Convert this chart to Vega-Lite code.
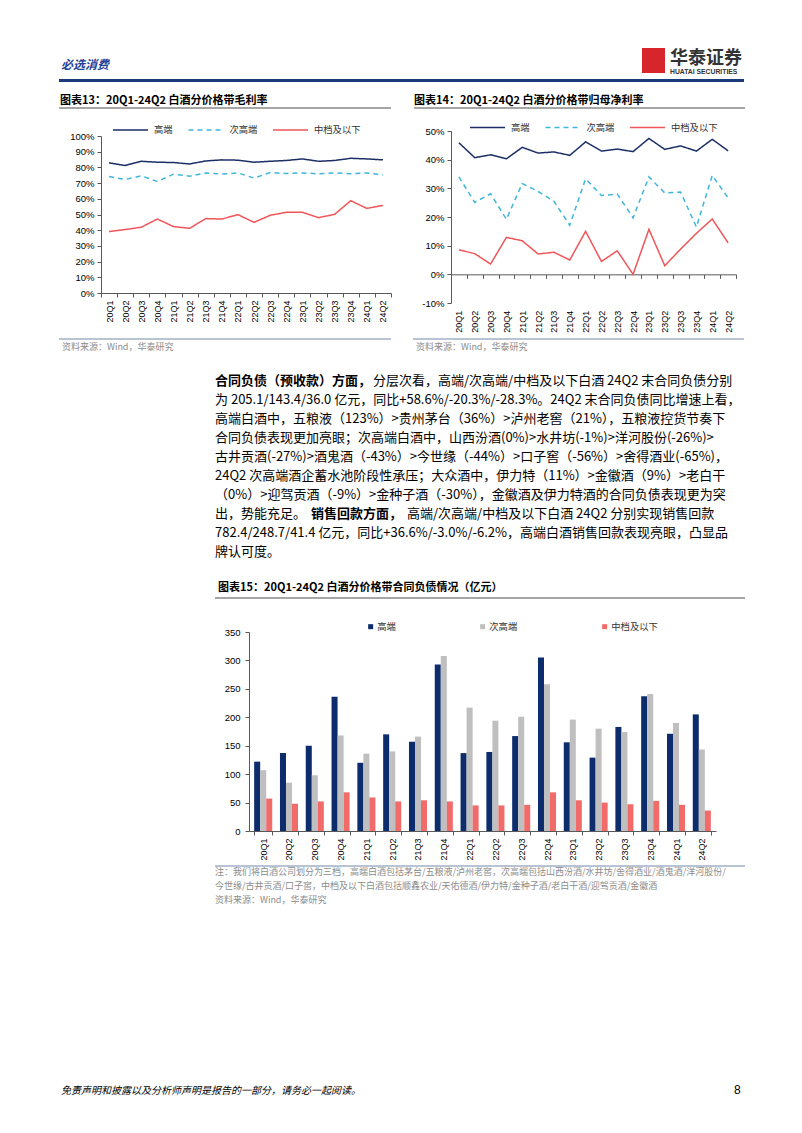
{
"$schema": "https://vega.github.io/schema/vega-lite/v6.json",
"background": "white",
"padding": 0,
"spacing": 0,
"config": {"view": {"stroke": null}, "font": "Noto Sans CJK SC", "concat": {"spacing": 0}},
"resolve": {"scale": {"color": "independent", "strokeDash": "independent", "strokeWidth": "independent"}, "legend": {"color": "independent", "strokeDash": "independent", "strokeWidth": "independent"}},
"datasets": {
"gm": [
{"q":"20Q1","s":"高端","v":82.9},{"q":"20Q1","s":"次高端","v":74.2},{"q":"20Q1","s":"中档及以下","v":39.1},
{"q":"20Q2","s":"高端","v":81.2},{"q":"20Q2","s":"次高端","v":72.3},{"q":"20Q2","s":"中档及以下","v":40.4},
{"q":"20Q3","s":"高端","v":83.9},{"q":"20Q3","s":"次高端","v":74.6},{"q":"20Q3","s":"中档及以下","v":41.9},
{"q":"20Q4","s":"高端","v":83.3},{"q":"20Q4","s":"次高端","v":71.0},{"q":"20Q4","s":"中档及以下","v":47.1},
{"q":"21Q1","s":"高端","v":83.1},{"q":"21Q1","s":"次高端","v":75.7},{"q":"21Q1","s":"中档及以下","v":42.3},
{"q":"21Q2","s":"高端","v":82.2},{"q":"21Q2","s":"次高端","v":74.4},{"q":"21Q2","s":"中档及以下","v":41.2},
{"q":"21Q3","s":"高端","v":84.1},{"q":"21Q3","s":"次高端","v":76.5},{"q":"21Q3","s":"中档及以下","v":47.4},
{"q":"21Q4","s":"高端","v":84.8},{"q":"21Q4","s":"次高端","v":75.7},{"q":"21Q4","s":"中档及以下","v":47.1},
{"q":"22Q1","s":"高端","v":84.6},{"q":"22Q1","s":"次高端","v":76.5},{"q":"22Q1","s":"中档及以下","v":49.9},
{"q":"22Q2","s":"高端","v":83.3},{"q":"22Q2","s":"次高端","v":73.2},{"q":"22Q2","s":"中档及以下","v":45.0},
{"q":"22Q3","s":"高端","v":83.9},{"q":"22Q3","s":"次高端","v":76.7},{"q":"22Q3","s":"中档及以下","v":49.5},
{"q":"22Q4","s":"高端","v":84.4},{"q":"22Q4","s":"次高端","v":76.1},{"q":"22Q4","s":"中档及以下","v":51.4},
{"q":"23Q1","s":"高端","v":85.4},{"q":"23Q1","s":"次高端","v":76.5},{"q":"23Q1","s":"中档及以下","v":51.4},
{"q":"23Q2","s":"高端","v":83.9},{"q":"23Q2","s":"次高端","v":75.9},{"q":"23Q2","s":"中档及以下","v":48.0},
{"q":"23Q3","s":"高端","v":84.4},{"q":"23Q3","s":"次高端","v":76.5},{"q":"23Q3","s":"中档及以下","v":50.1},
{"q":"23Q4","s":"高端","v":85.8},{"q":"23Q4","s":"次高端","v":75.9},{"q":"23Q4","s":"中档及以下","v":58.8},
{"q":"24Q1","s":"高端","v":85.4},{"q":"24Q1","s":"次高端","v":76.5},{"q":"24Q1","s":"中档及以下","v":53.9},
{"q":"24Q2","s":"高端","v":84.8},{"q":"24Q2","s":"次高端","v":75.3},{"q":"24Q2","s":"中档及以下","v":55.8}
],
"np": [
{"q":"20Q1","s":"高端","v":45.9},{"q":"20Q1","s":"次高端","v":34.0},{"q":"20Q1","s":"中档及以下","v":8.6},
{"q":"20Q2","s":"高端","v":40.7},{"q":"20Q2","s":"次高端","v":25.1},{"q":"20Q2","s":"中档及以下","v":7.2},
{"q":"20Q3","s":"高端","v":41.7},{"q":"20Q3","s":"次高端","v":28.1},{"q":"20Q3","s":"中档及以下","v":3.6},
{"q":"20Q4","s":"高端","v":40.3},{"q":"20Q4","s":"次高端","v":19.2},{"q":"20Q4","s":"中档及以下","v":12.9},
{"q":"21Q1","s":"高端","v":44.3},{"q":"21Q1","s":"次高端","v":31.7},{"q":"21Q1","s":"中档及以下","v":11.7},
{"q":"21Q2","s":"高端","v":42.3},{"q":"21Q2","s":"次高端","v":28.9},{"q":"21Q2","s":"中档及以下","v":7.1},
{"q":"21Q3","s":"高端","v":42.7},{"q":"21Q3","s":"次高端","v":25.5},{"q":"21Q3","s":"中档及以下","v":7.7},
{"q":"21Q4","s":"高端","v":41.5},{"q":"21Q4","s":"次高端","v":17.1},{"q":"21Q4","s":"中档及以下","v":5.0},
{"q":"22Q1","s":"高端","v":46.2},{"q":"22Q1","s":"次高端","v":33.3},{"q":"22Q1","s":"中档及以下","v":15.0},
{"q":"22Q2","s":"高端","v":43.0},{"q":"22Q2","s":"次高端","v":27.5},{"q":"22Q2","s":"中档及以下","v":4.5},
{"q":"22Q3","s":"高端","v":43.7},{"q":"22Q3","s":"次高端","v":28.0},{"q":"22Q3","s":"中档及以下","v":8.2},
{"q":"22Q4","s":"高端","v":42.8},{"q":"22Q4","s":"次高端","v":19.7},{"q":"22Q4","s":"中档及以下","v":0.0},
{"q":"23Q1","s":"高端","v":47.4},{"q":"23Q1","s":"次高端","v":34.0},{"q":"23Q1","s":"中档及以下","v":15.7},
{"q":"23Q2","s":"高端","v":43.6},{"q":"23Q2","s":"次高端","v":28.4},{"q":"23Q2","s":"中档及以下","v":3.0},
{"q":"23Q3","s":"高端","v":44.8},{"q":"23Q3","s":"次高端","v":28.7},{"q":"23Q3","s":"中档及以下","v":8.8},
{"q":"23Q4","s":"高端","v":43.0},{"q":"23Q4","s":"次高端","v":16.5},{"q":"23Q4","s":"中档及以下","v":14.3},
{"q":"24Q1","s":"高端","v":47.1},{"q":"24Q1","s":"次高端","v":34.5},{"q":"24Q1","s":"中档及以下","v":19.3},
{"q":"24Q2","s":"高端","v":43.1},{"q":"24Q2","s":"次高端","v":26.7},{"q":"24Q2","s":"中档及以下","v":11.0}
],
"cl": [
{"q":"20Q1","s":"高端","v":122},{"q":"20Q1","s":"次高端","v":107},{"q":"20Q1","s":"中档及以下","v":57},
{"q":"20Q2","s":"高端","v":137},{"q":"20Q2","s":"次高端","v":85},{"q":"20Q2","s":"中档及以下","v":48},
{"q":"20Q3","s":"高端","v":150},{"q":"20Q3","s":"次高端","v":98},{"q":"20Q3","s":"中档及以下","v":52},
{"q":"20Q4","s":"高端","v":236},{"q":"20Q4","s":"次高端","v":168},{"q":"20Q4","s":"中档及以下","v":68},
{"q":"21Q1","s":"高端","v":120},{"q":"21Q1","s":"次高端","v":136},{"q":"21Q1","s":"中档及以下","v":59},
{"q":"21Q2","s":"高端","v":170},{"q":"21Q2","s":"次高端","v":140},{"q":"21Q2","s":"中档及以下","v":52},
{"q":"21Q3","s":"高端","v":157},{"q":"21Q3","s":"次高端","v":166},{"q":"21Q3","s":"中档及以下","v":54},
{"q":"21Q4","s":"高端","v":293},{"q":"21Q4","s":"次高端","v":308},{"q":"21Q4","s":"中档及以下","v":52},
{"q":"22Q1","s":"高端","v":137},{"q":"22Q1","s":"次高端","v":217},{"q":"22Q1","s":"中档及以下","v":45},
{"q":"22Q2","s":"高端","v":139},{"q":"22Q2","s":"次高端","v":194},{"q":"22Q2","s":"中档及以下","v":45},
{"q":"22Q3","s":"高端","v":167},{"q":"22Q3","s":"次高端","v":201},{"q":"22Q3","s":"中档及以下","v":46},
{"q":"22Q4","s":"高端","v":305},{"q":"22Q4","s":"次高端","v":258},{"q":"22Q4","s":"中档及以下","v":68},
{"q":"23Q1","s":"高端","v":156},{"q":"23Q1","s":"次高端","v":196},{"q":"23Q1","s":"中档及以下","v":54},
{"q":"23Q2","s":"高端","v":129},{"q":"23Q2","s":"次高端","v":180},{"q":"23Q2","s":"中档及以下","v":50},
{"q":"23Q3","s":"高端","v":183},{"q":"23Q3","s":"次高端","v":174},{"q":"23Q3","s":"中档及以下","v":47},
{"q":"23Q4","s":"高端","v":237},{"q":"23Q4","s":"次高端","v":241},{"q":"23Q4","s":"中档及以下","v":53},
{"q":"24Q1","s":"高端","v":171},{"q":"24Q1","s":"次高端","v":190},{"q":"24Q1","s":"中档及以下","v":46},
{"q":"24Q2","s":"高端","v":205.1},{"q":"24Q2","s":"次高端","v":143.4},{"q":"24Q2","s":"中档及以下","v":36.0}
],
"para": [
{"line":1,"seg":0,"t":"合同负债（预收款）方面，"},
{"line":1,"seg":1,"t":"分层次看，高端/次高端/中档及以下白酒 24Q2 末合同负债分别"},
{"line":2,"seg":0,"t":"为 205.1/143.4/36.0 亿元，同比+58.6%/-20.3%/-28.3%。24Q2 末合同负债同比增速上看，"},
{"line":3,"seg":0,"t":"高端白酒中，五粮液（123%）>贵州茅台（36%）>泸州老窖（21%），五粮液控货节奏下"},
{"line":4,"seg":0,"t":"合同负债表现更加亮眼；次高端白酒中，山西汾酒(0%)>水井坊(-1%)>洋河股份(-26%)>"},
{"line":5,"seg":0,"t":"古井贡酒(-27%)>酒鬼酒（-43%）>今世缘（-44%）>口子窖（-56%）>舍得酒业(-65%)，"},
{"line":6,"seg":0,"t":"24Q2 次高端酒企蓄水池阶段性承压；大众酒中，伊力特（11%）>金徽酒（9%）>老白干"},
{"line":7,"seg":0,"t":"（0%）>迎驾贡酒（-9%）>金种子酒（-30%），金徽酒及伊力特酒的合同负债表现更为突"},
{"line":8,"seg":0,"t":"出，势能充足。"},
{"line":8,"seg":1,"t":"销售回款方面，"},
{"line":8,"seg":2,"t":"高端/次高端/中档及以下白酒 24Q2 分别实现销售回款"},
{"line":9,"seg":0,"t":"782.4/248.7/41.4 亿元，同比+36.6%/-3.0%/-6.2%，高端白酒销售回款表现亮眼，凸显品"},
{"line":10,"seg":0,"t":"牌认可度。"}
]
},
"vconcat": [
{"spacing":0,"hconcat":[
 {"width":61,"height":79,"data":{"values":[]},"mark":"point"},
 {"spacing":0,"vconcat":[
  {"width":500,"height":59,"data":{"values":[]},"mark":"point"},
  {"width":500,"height":1,"data":{"values":[]},"mark":"point",
   "title":{"text":"必选消费","orient":"bottom","anchor":"start","frame":"group","offset":0,"fontSize":12,"fontWeight":"bold","fontStyle":"italic","color":"#1f4196"}}
 ]},
 {"width":81,"height":1,"data":{"values":[]},"mark":"point"},
 {"spacing":0,"vconcat":[
  {"width":23,"height":48,"data":{"values":[]},"mark":"point"},
  {"width":23,"height":25,"data":{"values":[]},"mark":"point","view":{"fill":"#d6262c"}}
 ]},
 {"width":5,"height":1,"data":{"values":[]},"mark":"point"},
 {"spacing":0,"vconcat":[
  {"width":75,"height":48,"data":{"values":[]},"mark":"point"},
  {"width":75,"height":1,"data":{"values":[]},"mark":"point",
   "title":{"text":"华泰证券","subtitle":"HUATAI SECURITIES","orient":"bottom","anchor":"start","frame":"group","offset":1,"fontSize":18,"fontWeight":"bold","color":"#333333","subtitleFont":"Liberation Sans","subtitleFontSize":6.8,"subtitleFontWeight":"bold","subtitleColor":"#333333","subtitlePadding":1}}
 ]}
]},
{"spacing":0,"hconcat":[
 {"width":59,"height":28,"data":{"values":[]},"mark":"point"},
 {"spacing":0,"vconcat":[
  {"width":685,"height":3,"data":{"values":[]},"mark":"point","view":{"fill":"#1a3a7c"}},
  {"width":685,"height":11,"data":{"values":[]},"mark":"point"},
  {"spacing":0,"hconcat":[
   {"width":332,"height":1,"data":{"values":[]},"mark":"point",
    "title":{"text":"图表13：20Q1-24Q2 白酒分价格带毛利率","orient":"bottom","anchor":"start","frame":"group","offset":1,"dx":1,"fontSize":11,"fontWeight":"bold","color":"#000000"}},
   {"width":22,"height":1,"data":{"values":[]},"mark":"point"},
   {"width":331,"height":1,"data":{"values":[]},"mark":"point",
    "title":{"text":"图表14：20Q1-24Q2 白酒分价格带归母净利率","orient":"bottom","anchor":"start","frame":"group","offset":1,"dx":1,"fontSize":11,"fontWeight":"bold","color":"#000000"}}
  ]}
 ]}
]},
{"spacing":0,
 "resolve": {"scale": {"color": "independent", "strokeDash": "independent", "strokeWidth": "independent"}, "legend": {"color": "independent", "strokeDash": "independent", "strokeWidth": "independent"}},
 "hconcat":[
 {"width":59,"height":231,"data":{"values":[]},"mark":"point"},
 {"spacing":0,
  "resolve": {"scale": {"color": "independent", "strokeDash": "independent", "strokeWidth": "independent"}, "legend": {"color": "independent", "strokeDash": "independent", "strokeWidth": "independent"}},
  "vconcat":[
  {"width":332,"height":2,"data":{"values":[]},"mark":"point","view":{"fill":"#a6a6a6"}},
  {"spacing":0,
   "resolve": {"scale": {"color": "independent", "strokeDash": "independent", "strokeWidth": "independent"}, "legend": {"color": "independent", "strokeDash": "independent", "strokeWidth": "independent"}},
   "hconcat":[
   {"width":2,"height":1,"data":{"values":[]},"mark":"point"},
   {"width":290,"height":184,"data":{"name":"gm"},"mark":{"type":"line"},
    "encoding":{
     "x":{"field":"q","type":"ordinal","bandPosition":0.5,"scale":{"type":"band","paddingInner":0,"paddingOuter":0},
          "axis":{"title":null,"labelAngle":-90,"labelFont":"Liberation Sans","labelFontSize":9,"labelColor":"#000000","tickBand":"extent","tickSize":4,"labelPadding":3,"domainColor":"#595959","tickColor":"#595959"}},
     "y":{"field":"v","type":"quantitative","scale":{"domain":[0,100],"nice":false,"range":[184,27]},
          "axis":{"title":null,"values":[0,10,20,30,40,50,60,70,80,90,100],"labelExpr":"datum.value + '%'","grid":false,"tickSize":4,"labelPadding":3,"minExtent":40,"labelFont":"Liberation Sans","labelFontSize":9.5,"labelColor":"#000000","domainColor":"#595959","tickColor":"#595959"}},
     "color":{"field":"s","type":"nominal","scale":{"domain":["高端","次高端","中档及以下"],"range":["#1c2f66","#3fb6da","#f0555a"]},
          "legend":{"title":null,"orient":"none","legendX":11,"legendY":2.5,"direction":"horizontal","symbolType":"stroke","symbolSize":1225,"labelFont":"Noto Sans CJK SC","labelFontSize":9.3,"labelColor":"#333333","labelOffset":5,"columnPadding":12.5,"padding":0}},
     "strokeDash":{"field":"s","type":"nominal","scale":{"domain":["高端","次高端","中档及以下"],"range":[[1,0],[5,4],[1,0]]},
          "legend":{"title":null,"orient":"none","legendX":11,"legendY":2.5,"direction":"horizontal","symbolType":"stroke","symbolSize":1225,"labelFont":"Noto Sans CJK SC","labelFontSize":9.3,"labelColor":"#333333","labelOffset":5,"columnPadding":12.5,"padding":0}},
     "strokeWidth":{"field":"s","type":"nominal","scale":{"domain":["高端","次高端","中档及以下"],"range":[1.5,1.5,2.2]},
          "legend":{"title":null,"orient":"none","legendX":11,"legendY":2.5,"direction":"horizontal","symbolType":"stroke","symbolSize":1225,"labelFont":"Noto Sans CJK SC","labelFontSize":9.3,"labelColor":"#333333","labelOffset":5,"columnPadding":12.5,"padding":0}}
    }}
  ]}
 ]},
 {"width":22,"height":1,"data":{"values":[]},"mark":"point"},
 {"spacing":0,
  "resolve": {"scale": {"color": "independent", "strokeDash": "independent", "strokeWidth": "independent"}, "legend": {"color": "independent", "strokeDash": "independent", "strokeWidth": "independent"}},
  "vconcat":[
  {"width":331,"height":2,"data":{"values":[]},"mark":"point","view":{"fill":"#a6a6a6"}},
  {"spacing":0,
   "resolve": {"scale": {"color": "independent", "strokeDash": "independent", "strokeWidth": "independent"}, "legend": {"color": "independent", "strokeDash": "independent", "strokeWidth": "independent"}},
   "hconcat":[
   {"width":2,"height":1,"data":{"values":[]},"mark":"point"},
   {"width":285,"height":194,"data":{"name":"np"},"mark":{"type":"line"},
    "encoding":{
     "x":{"field":"q","type":"ordinal","bandPosition":0.5,"scale":{"type":"band","paddingInner":0,"paddingOuter":0},
          "axis":{"title":null,"labelAngle":-90,"labelFont":"Liberation Sans","labelFontSize":9,"labelColor":"#000000","tickBand":"extent","tickSize":4,"offset":-28.67,"labelPadding":32,"domainColor":"#595959","tickColor":"#595959"}},
     "y":{"field":"v","type":"quantitative","scale":{"domain":[-10,50],"nice":false,"range":[194,22]},
          "axis":{"title":null,"values":[-10,0,10,20,30,40,50],"labelExpr":"datum.value + '%'","grid":false,"tickSize":4,"labelPadding":3,"minExtent":35,"labelFont":"Liberation Sans","labelFontSize":9.5,"labelColor":"#000000","domainColor":"#595959","tickColor":"#595959"}},
     "color":{"field":"s","type":"nominal","scale":{"domain":["高端","次高端","中档及以下"],"range":["#1c2f66","#3fb6da","#f0555a"]},
          "legend":{"title":null,"orient":"none","legendX":18,"legendY":0,"direction":"horizontal","symbolType":"stroke","symbolSize":1225,"labelFont":"Noto Sans CJK SC","labelFontSize":9.3,"labelColor":"#333333","labelOffset":5,"columnPadding":12.5,"padding":0}},
     "strokeDash":{"field":"s","type":"nominal","scale":{"domain":["高端","次高端","中档及以下"],"range":[[1,0],[5,4],[1,0]]},
          "legend":{"title":null,"orient":"none","legendX":18,"legendY":0,"direction":"horizontal","symbolType":"stroke","symbolSize":1225,"labelFont":"Noto Sans CJK SC","labelFontSize":9.3,"labelColor":"#333333","labelOffset":5,"columnPadding":12.5,"padding":0}},
     "strokeWidth":{"field":"s","type":"nominal","scale":{"domain":["高端","次高端","中档及以下"],"range":[1.5,1.5,2.2]},
          "legend":{"title":null,"orient":"none","legendX":18,"legendY":0,"direction":"horizontal","symbolType":"stroke","symbolSize":1225,"labelFont":"Noto Sans CJK SC","labelFontSize":9.3,"labelColor":"#333333","labelOffset":5,"columnPadding":12.5,"padding":0}}
    }}
  ]}
 ]}
]},
{"spacing":0,"hconcat":[
 {"width":59,"height":34,"data":{"values":[]},"mark":"point"},
 {"width":332,"height":2,"data":{"values":[]},"mark":"point","view":{"fill":"#b8c4d4"},
  "title":{"text":"资料来源：Wind，华泰研究","orient":"bottom","anchor":"start","frame":"group","offset":3,"dx":3,"fontSize":9,"fontWeight":"normal","color":"#8c8c8c"}},
 {"width":22,"height":1,"data":{"values":[]},"mark":"point"},
 {"width":331,"height":2,"data":{"values":[]},"mark":"point","view":{"fill":"#b8c4d4"},
  "title":{"text":"资料来源：Wind，华泰研究","orient":"bottom","anchor":"start","frame":"group","offset":3,"dx":3,"fontSize":9,"fontWeight":"normal","color":"#8c8c8c"}}
]},
{"spacing":0,"hconcat":[
 {"width":215,"height":225,"data":{"values":[]},"mark":"point"},
 {"spacing":0,"vconcat":[
  {"width":530,"height":189,"data":{"name":"para"},
   "encoding":{
    "y":{"field":"line","type":"ordinal","scale":{"type":"point","padding":0.5,"domain":[1,2,3,4,5,6,7,8,9,10]},"axis":null},
    "x":{"datum":0,"type":"quantitative","scale":{"domain":[0,1]},"axis":null},
    "text":{"field":"t","type":"nominal"}
   },
   "layer":[
    {"transform":[{"filter":"datum.seg == 0 && datum.line != 1"}],"mark":{"type":"text","align":"left","baseline":"middle","fontSize":13,"font":"Noto Sans CJK SC","color":"#000000"}},
    {"transform":[{"filter":"datum.seg == 0 && datum.line == 1"}],"mark":{"type":"text","align":"left","baseline":"middle","fontSize":13,"font":"Noto Sans CJK SC","fontWeight":"bold","color":"#000000"}},
    {"transform":[{"filter":"datum.seg == 1 && datum.line == 1"}],"mark":{"type":"text","align":"left","baseline":"middle","dx":158,"fontSize":13,"font":"Noto Sans CJK SC","color":"#000000"}},
    {"transform":[{"filter":"datum.seg == 1 && datum.line == 8"}],"mark":{"type":"text","align":"left","baseline":"middle","dx":96,"fontSize":13,"font":"Noto Sans CJK SC","fontWeight":"bold","color":"#000000"}},
    {"transform":[{"filter":"datum.seg == 2"}],"mark":{"type":"text","align":"left","baseline":"middle","dx":192,"fontSize":13,"font":"Noto Sans CJK SC","color":"#000000"}}
   ]},
  {"width":530,"height":20,"data":{"values":[]},"mark":"point"},
  {"width":530,"height":1,"data":{"values":[]},"mark":"point",
   "title":{"text":"图表15：20Q1-24Q2 白酒分价格带合同负债情况（亿元）","orient":"bottom","anchor":"start","frame":"group","offset":0,"dx":3,"fontSize":11,"fontWeight":"bold","color":"#000000"}}
 ]}
]},
{"spacing":0,
 "resolve": {"scale": {"color": "independent"}, "legend": {"color": "independent"}},
 "hconcat":[
 {"width":215,"height":268,"data":{"values":[]},"mark":"point"},
 {"spacing":0,
  "resolve": {"scale": {"color": "independent"}, "legend": {"color": "independent"}},
  "vconcat":[
  {"width":530,"height":2,"data":{"values":[]},"mark":"point","view":{"fill":"#a6a6a6"}},
  {"spacing":0,
   "resolve": {"scale": {"color": "independent"}, "legend": {"color": "independent"}},
   "hconcat":[
   {"width":4,"height":1,"data":{"values":[]},"mark":"point"},
   {"width":467,"height":232,"data":{"name":"cl"},"mark":{"type":"bar"},
    "encoding":{
     "x":{"field":"q","type":"nominal","scale":{"paddingInner":0.3,"paddingOuter":0.2},
          "axis":{"title":null,"labelAngle":-90,"labelFont":"Liberation Sans","labelFontSize":9,"labelColor":"#000000","tickBand":"extent","tickSize":4,"labelPadding":3,"domainColor":"#595959","tickColor":"#595959"}},
     "xOffset":{"field":"s","type":"nominal","sort":["高端","次高端","中档及以下"],"scale":{"paddingInner":0,"paddingOuter":0}},
     "y":{"field":"v","type":"quantitative","scale":{"domain":[0,350],"nice":false,"range":[232,33]},
          "axis":{"title":null,"values":[0,50,100,150,200,250,300,350],"grid":false,"tickSize":4,"labelPadding":5,"minExtent":30,"labelFont":"Liberation Sans","labelFontSize":9.5,"labelColor":"#000000","domainColor":"#595959","tickColor":"#595959"}},
     "color":{"field":"s","type":"nominal","scale":{"domain":["高端","次高端","中档及以下"],"range":["#0c2c6c","#bfbfbf","#f26b6b"]},
          "legend":{"title":null,"orient":"none","legendX":117,"legendY":23,"direction":"horizontal","symbolType":"square","symbolSize":25,"symbolStrokeWidth":0,"labelFont":"Noto Sans CJK SC","labelFontSize":9.3,"labelColor":"#333333","labelOffset":2,"columnPadding":82,"padding":0}}
    }}
  ]}
 ]}
]},
{"spacing":0,"hconcat":[
 {"width":215,"height":219,"data":{"values":[]},"mark":"point"},
 {"width":530,"height":2,"data":{"values":[]},"mark":"point","view":{"fill":"#b8c4d4"},
  "title":{"text":["注：我们将白酒公司划分为三档，高端白酒包括茅台/五粮液/泸州老窖，次高端包括山西汾酒/水井坊/舍得酒业/酒鬼酒/洋河股份/","今世缘/古井贡酒/口子窖，中档及以下白酒包括顺鑫农业/天佑德酒/伊力特/金种子酒/老白干酒/迎驾贡酒/金徽酒","资料来源：Wind，华泰研究"],"orient":"bottom","anchor":"start","frame":"group","offset":1,"fontSize":9,"lineHeight":14,"fontWeight":"normal","color":"#8c8c8c"}}
]},
{"spacing":0,"hconcat":[
 {"width":61,"height":20,"data":{"values":[]},"mark":"point"},
 {"width":600,"height":1,"data":{"values":[]},"mark":"point",
  "title":{"text":"免责声明和披露以及分析师声明是报告的一部分，请务必一起阅读。","orient":"bottom","anchor":"start","frame":"group","offset":0,"fontSize":10,"fontStyle":"italic","fontWeight":"normal","color":"#000000"}},
 {"width":73,"height":1,"data":{"values":[]},"mark":"point"},
 {"width":12,"height":1,"data":{"values":[]},"mark":"point",
  "title":{"text":"8","orient":"bottom","anchor":"start","frame":"group","offset":-1,"font":"Liberation Sans","fontSize":12,"fontWeight":"normal","color":"#000000"}}
]}
]
}
